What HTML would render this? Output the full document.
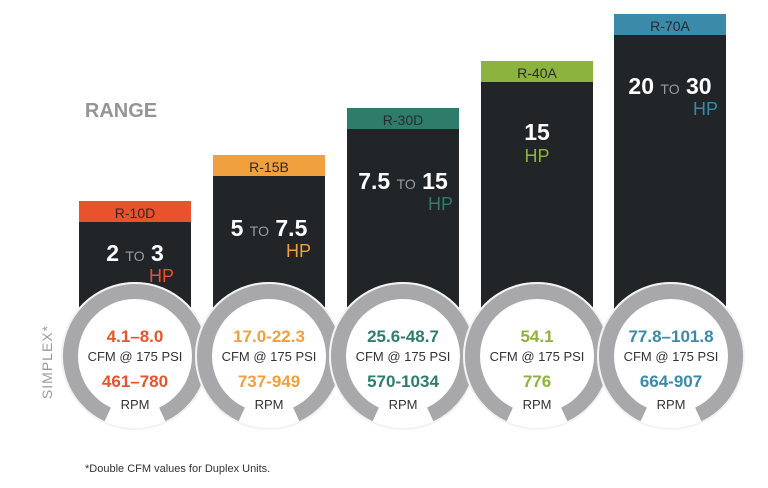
<!DOCTYPE html>
<html><head><meta charset="utf-8"><style>
html,body{margin:0;padding:0;background:#fff}
svg{display:block}
text{font-family:"Liberation Sans",sans-serif}
</style></head><body>
<svg width="768" height="488" viewBox="0 0 768 488" xmlns="http://www.w3.org/2000/svg">
<text x="121" y="117" text-anchor="middle" font-size="20" font-weight="bold" fill="#949597">RANGE</text>
<text transform="translate(52,362) rotate(-90)" text-anchor="middle" font-size="14" fill="#9a9b9d" letter-spacing="1">SIMPLEX*</text>
<text x="85" y="472" font-size="11" fill="#333">*Double CFM values for Duplex Units.</text>

<rect x="79" y="201" width="112" height="140" fill="#222528"/><rect x="79" y="201" width="112" height="21" fill="#e8532b"/>
<text x="135" y="218" text-anchor="middle" font-size="14" fill="#2a2a2a">R-10D</text>
<text x="135" y="261" text-anchor="middle" font-size="23" font-weight="bold" fill="#fff">2 <tspan font-size="14" font-weight="normal" fill="#9a9b9d">TO</tspan> 3</text>
<text x="174" y="282" text-anchor="end" font-size="18" fill="#e8532b">HP</text>

<rect x="213" y="155" width="112" height="190" fill="#222528"/><rect x="213" y="155" width="112" height="21" fill="#f0a03c"/>
<text x="269" y="172" text-anchor="middle" font-size="14" fill="#2a2a2a">R-15B</text>
<text x="269" y="236" text-anchor="middle" font-size="23" font-weight="bold" fill="#fff">5 <tspan font-size="14" font-weight="normal" fill="#9a9b9d">TO</tspan> 7.5</text>
<text x="311" y="257" text-anchor="end" font-size="18" fill="#f0a03c">HP</text>

<rect x="347" y="108" width="112" height="240" fill="#222528"/><rect x="347" y="108" width="112" height="21" fill="#2e7d6b"/>
<text x="403" y="125" text-anchor="middle" font-size="14" fill="#2a2a2a">R-30D</text>
<text x="403" y="189" text-anchor="middle" font-size="23" font-weight="bold" fill="#fff">7.5 <tspan font-size="14" font-weight="normal" fill="#9a9b9d">TO</tspan> 15</text>
<text x="453" y="210" text-anchor="end" font-size="18" fill="#2e7d6b">HP</text>

<rect x="481" y="61" width="112" height="290" fill="#222528"/><rect x="481" y="61" width="112" height="21" fill="#8db33f"/>
<text x="537" y="78" text-anchor="middle" font-size="14" fill="#2a2a2a">R-40A</text>
<text x="537" y="140" text-anchor="middle" font-size="23" font-weight="bold" fill="#fff">15</text>
<text x="537" y="162" text-anchor="middle" font-size="18" fill="#8db33f">HP</text>

<rect x="614" y="14" width="112" height="340" fill="#222528"/><rect x="614" y="14" width="112" height="21" fill="#3a8aaa"/>
<text x="670" y="31" text-anchor="middle" font-size="14" fill="#2a2a2a">R-70A</text>
<text x="670" y="94" text-anchor="middle" font-size="23" font-weight="bold" fill="#fff">20 <tspan font-size="14" font-weight="normal" fill="#9a9b9d">TO</tspan> 30</text>
<text x="718" y="115" text-anchor="end" font-size="18" fill="#3a8aaa">HP</text>

<g transform="translate(135,356)">
<circle r="74" fill="#fff"/><circle r="73" fill="none" stroke="#f2f2f2" stroke-width="2"/>
<path d="M27.26,58.46 A64.5,64.5 0 1 0 -27.26,58.46" fill="none" stroke="#a8a8aa" stroke-width="15"/>
<text y="-14" text-anchor="middle" font-size="17" font-weight="bold" fill="#e8532b">4.1–8.0</text>
<text y="5" text-anchor="middle" font-size="13" fill="#333">CFM @ 175 PSI</text>
<text y="31" text-anchor="middle" font-size="17" font-weight="bold" fill="#e8532b">461–780</text>
<text y="53" text-anchor="middle" font-size="13" fill="#333">RPM</text>
</g>
<g transform="translate(269,356)">
<circle r="74" fill="#fff"/><circle r="73" fill="none" stroke="#f2f2f2" stroke-width="2"/>
<path d="M27.26,58.46 A64.5,64.5 0 1 0 -27.26,58.46" fill="none" stroke="#a8a8aa" stroke-width="15"/>
<text y="-14" text-anchor="middle" font-size="17" font-weight="bold" fill="#f0a03c">17.0-22.3</text>
<text y="5" text-anchor="middle" font-size="13" fill="#333">CFM @ 175 PSI</text>
<text y="31" text-anchor="middle" font-size="17" font-weight="bold" fill="#f0a03c">737-949</text>
<text y="53" text-anchor="middle" font-size="13" fill="#333">RPM</text>
</g>
<g transform="translate(403,356)">
<circle r="74" fill="#fff"/><circle r="73" fill="none" stroke="#f2f2f2" stroke-width="2"/>
<path d="M27.26,58.46 A64.5,64.5 0 1 0 -27.26,58.46" fill="none" stroke="#a8a8aa" stroke-width="15"/>
<text y="-14" text-anchor="middle" font-size="17" font-weight="bold" fill="#2e7d6b">25.6-48.7</text>
<text y="5" text-anchor="middle" font-size="13" fill="#333">CFM @ 175 PSI</text>
<text y="31" text-anchor="middle" font-size="17" font-weight="bold" fill="#2e7d6b">570-1034</text>
<text y="53" text-anchor="middle" font-size="13" fill="#333">RPM</text>
</g>
<g transform="translate(537,356)">
<circle r="74" fill="#fff"/><circle r="73" fill="none" stroke="#f2f2f2" stroke-width="2"/>
<path d="M27.26,58.46 A64.5,64.5 0 1 0 -27.26,58.46" fill="none" stroke="#a8a8aa" stroke-width="15"/>
<text y="-14" text-anchor="middle" font-size="17" font-weight="bold" fill="#8db33f">54.1</text>
<text y="5" text-anchor="middle" font-size="13" fill="#333">CFM @ 175 PSI</text>
<text y="31" text-anchor="middle" font-size="17" font-weight="bold" fill="#8db33f">776</text>
<text y="53" text-anchor="middle" font-size="13" fill="#333">RPM</text>
</g>
<g transform="translate(671,356)">
<circle r="74" fill="#fff"/><circle r="73" fill="none" stroke="#f2f2f2" stroke-width="2"/>
<path d="M27.26,58.46 A64.5,64.5 0 1 0 -27.26,58.46" fill="none" stroke="#a8a8aa" stroke-width="15"/>
<text y="-14" text-anchor="middle" font-size="17" font-weight="bold" fill="#3a8aaa">77.8–101.8</text>
<text y="5" text-anchor="middle" font-size="13" fill="#333">CFM @ 175 PSI</text>
<text y="31" text-anchor="middle" font-size="17" font-weight="bold" fill="#3a8aaa">664-907</text>
<text y="53" text-anchor="middle" font-size="13" fill="#333">RPM</text>
</g>
</svg>
</body></html>
